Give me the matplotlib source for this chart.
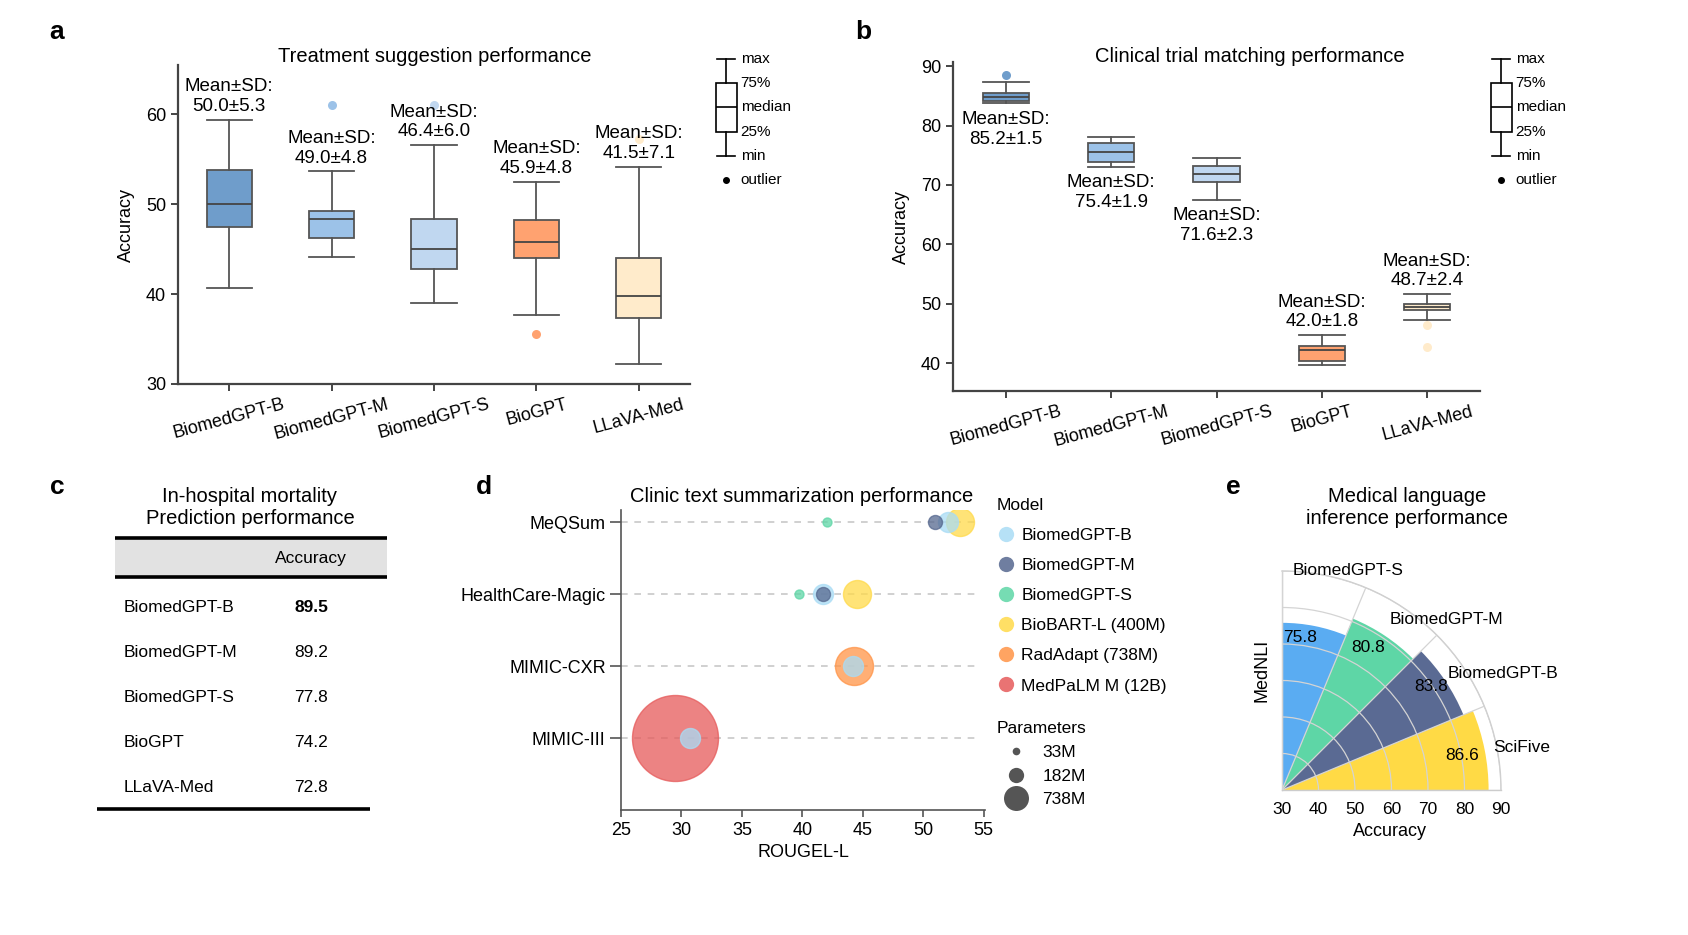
import numpy as np
import matplotlib
matplotlib.use('Agg')
import matplotlib.pyplot as plt
from matplotlib.lines import Line2D
from matplotlib.patches import Rectangle
import matplotlib.transforms as mtrans

plt.rcParams['font.family'] = ['Liberation Sans', 'DejaVu Sans']
plt.rcParams['font.size'] = 13

W, H = 1688, 935

# ---------------- data ----------------
models_ab = ['BiomedGPT-B', 'BiomedGPT-M', 'BiomedGPT-S', 'BioGPT', 'LLaVA-Med']

# panel a: treatment suggestion
a_whislo = [40.7, 44.1, 39.0, 37.7, 32.2]
a_q1 = [47.5, 46.2, 42.8, 44.0, 37.3]
a_med = [50.0, 48.4, 45.0, 45.8, 39.8]
a_q3 = [53.8, 49.2, 48.4, 48.3, 44.0]
a_whishi = [59.4, 53.7, 56.6, 52.5, 54.2]
a_fliers = [[], [61.1], [61.1], [35.6], [57.3]]
a_mean = [50.0, 49.0, 46.4, 45.9, 41.5]
a_sd = [5.3, 4.8, 6.0, 4.8, 7.1]

# panel b: clinical trial matching
b_whislo = [83.8, 73.1, 67.5, 39.7, 47.3]
b_q1 = [84.1, 73.8, 70.5, 40.4, 48.9]
b_med = [84.8, 75.6, 71.9, 42.2, 49.5]
b_q3 = [85.4, 77.1, 73.2, 42.9, 49.9]
b_whishi = [87.3, 78.1, 74.5, 44.7, 51.6]
b_fliers = [[88.5], [], [], [], [46.4, 42.7]]
b_mean = [85.2, 75.4, 71.6, 42.0, 48.7]
b_sd = [1.5, 1.9, 2.3, 1.8, 2.4]

# panel c: in-hospital mortality
c_models = ['BiomedGPT-B', 'BiomedGPT-M', 'BiomedGPT-S', 'BioGPT', 'LLaVA-Med']
c_acc = [89.5, 89.2, 77.8, 74.2, 72.8]

# panel d: clinic text summarization (ROUGE-L)
d_datasets = ['MeQSum', 'HealthCare-Magic', 'MIMIC-CXR', 'MIMIC-III']
d_models = ['BiomedGPT-B', 'BiomedGPT-M', 'BiomedGPT-S', 'BioBART-L (400M)',
            'RadAdapt (738M)', 'MedPaLM M (12B)']
d_point_dataset = ['MeQSum', 'MeQSum', 'MeQSum', 'MeQSum',
                   'HealthCare-Magic', 'HealthCare-Magic', 'HealthCare-Magic', 'HealthCare-Magic',
                   'MIMIC-CXR', 'MIMIC-CXR', 'MIMIC-III', 'MIMIC-III']
d_point_model = ['BiomedGPT-S', 'BiomedGPT-M', 'BiomedGPT-B', 'BioBART-L (400M)',
                 'BiomedGPT-S', 'BiomedGPT-B', 'BiomedGPT-M', 'BioBART-L (400M)',
                 'RadAdapt (738M)', 'BiomedGPT-B', 'MedPaLM M (12B)', 'BiomedGPT-B']
d_rouge = [42.0, 51.0, 52.0, 53.0,
           39.7, 41.7, 41.7, 44.5,
           44.3, 44.2, 29.5, 30.7]
d_xticks = [25, 30, 35, 40, 45, 50, 55]
param_labels = ['33M', '182M', '738M']

# panel e: medical language inference (MedNLI)
e_models = ['SciFive', 'BiomedGPT-B', 'BiomedGPT-M', 'BiomedGPT-S']
e_acc = [86.6, 83.8, 80.8, 75.8]
e_rticks = [30, 40, 50, 60, 70, 80, 90]

# ---------------- styles ----------------
box_colors = ['#6F9DCB', '#9CC2E8', '#C0D7F0', '#FFA270', '#FFEBCB']
d_colors = {'BiomedGPT-B': '#A9DCF5', 'BiomedGPT-M': '#56688F', 'BiomedGPT-S': '#5ED6A6',
            'BioBART-L (400M)': '#FFDA4A', 'RadAdapt (738M)': '#FF9447',
            'MedPaLM M (12B)': '#E65A5A'}
d_radius_px = {'BiomedGPT-B': 10, 'BiomedGPT-M': 7, 'BiomedGPT-S': 4.5,
               'BioBART-L (400M)': 14, 'RadAdapt (738M)': 19, 'MedPaLM M (12B)': 43}
e_colors = ['#FFDA45', '#5A6A93', '#5ED6A6', '#5AACF2']
EDGE = '#555555'
TITLE_FS = 14.5

fig = plt.figure(figsize=(W / 100, H / 100), dpi=100)


def rect(x0, y0, x1, y1):
    return [x0 / W, 1 - y1 / H, (x1 - x0) / W, (y1 - y0) / H]


def style_ax(ax):
    for s in ['top', 'right']:
        ax.spines[s].set_visible(False)
    for s in ['left', 'bottom']:
        ax.spines[s].set_linewidth(1.6)
        ax.spines[s].set_color('#444444')
    ax.tick_params(width=1.4, length=5, color='#444444', labelsize=13)


def boxpanel(ax, lo, q1, med, q3, hi, fl):
    stats = [dict(whislo=lo[i], q1=q1[i], med=med[i], q3=q3[i], whishi=hi[i], fliers=fl[i])
             for i in range(len(lo))]
    bp = ax.bxp(stats, positions=np.arange(len(lo)), widths=0.44, capwidths=0.44,
                patch_artist=True, showfliers=True,
                boxprops=dict(edgecolor=EDGE, linewidth=1.3),
                whiskerprops=dict(color=EDGE, linewidth=1.3),
                capprops=dict(color=EDGE, linewidth=1.3),
                medianprops=dict(color='#444444', linewidth=1.3))
    for patch, c in zip(bp['boxes'], box_colors):
        patch.set_facecolor(c)
    for f, c in zip(bp['fliers'], box_colors):
        f.set(marker='o', markerfacecolor=c, markeredgecolor='none', markersize=6.5)
    return bp


def key(rc):
    kx = fig.add_axes(rc)
    kx.axis('off')
    kx.bxp([dict(whislo=0, q1=1, med=2, q3=3, whishi=4, fliers=[])], positions=[0],
           widths=0.9, capwidths=0.75, patch_artist=True,
           boxprops=dict(facecolor='white', edgecolor='black', linewidth=1.2),
           whiskerprops=dict(color='black', linewidth=1.2),
           capprops=dict(color='black', linewidth=1.2),
           medianprops=dict(color='black', linewidth=1.2))
    kx.plot([0], [-1], 'o', color='black', ms=4)
    for yv, t in zip([4, 3, 2, 1, 0, -1], ['max', '75%', 'median', '25%', 'min', 'outlier']):
        kx.text(0.62, yv, t, va='center', ha='left', fontsize=11)
    kx.set_xlim(-0.6, 3.5)
    kx.set_ylim(-1.5, 4.5)


def msd(m, s):
    return f'Mean\u00b1SD:\n{m:.1f}\u00b1{s:.1f}'


# ---------------- panel a ----------------
axA = fig.add_axes(rect(178, 65, 690, 384))
boxpanel(axA, a_whislo, a_q1, a_med, a_q3, a_whishi, a_fliers)
style_ax(axA)
axA.set_xlim(-0.5, 4.5)
axA.set_ylim(30, 65.5)
axA.set_yticks([30, 40, 50, 60])
axA.set_xticks(range(5))
axA.set_xticklabels(models_ab, rotation=15)
axA.set_ylabel('Accuracy', fontsize=13, labelpad=8)
for i in range(5):
    axA.text(i, a_whishi[i] + 0.5, msd(a_mean[i], a_sd[i]),
             ha='center', va='bottom', fontsize=13.5, linespacing=1.22)
fig.text(435 / W, 1 - 56 / H, 'Treatment suggestion performance', ha='center', va='center',
         fontsize=TITLE_FS)
key(rect(712, 47, 808, 192))

# ---------------- panel b ----------------
axB = fig.add_axes(rect(953, 62, 1480, 391))
boxpanel(axB, b_whislo, b_q1, b_med, b_q3, b_whishi, b_fliers)
style_ax(axB)
axB.set_xlim(-0.5, 4.5)
axB.set_ylim(35.3, 90.7)
axB.set_yticks([40, 50, 60, 70, 80, 90])
axB.set_xticks(range(5))
axB.set_xticklabels(models_ab, rotation=15)
axB.set_ylabel('Accuracy', fontsize=13, labelpad=8)
for i in range(5):
    if i < 3:
        axB.text(i, b_whislo[i] - 1.3, msd(b_mean[i], b_sd[i]), ha='center', va='top',
                 fontsize=13.5, linespacing=1.22)
    else:
        axB.text(i, b_whishi[i] + 0.8, msd(b_mean[i], b_sd[i]), ha='center', va='bottom',
                 fontsize=13.5, linespacing=1.22)
fig.text(1250 / W, 1 - 56 / H, 'Clinical trial matching performance', ha='center', va='center',
         fontsize=TITLE_FS)
key(rect(1487, 47, 1583, 192))

# ---------------- overlay (labels, table) ----------------
ov = fig.add_axes([0, 0, 1, 1], zorder=-1)
ov.set_xlim(0, W)
ov.set_ylim(H, 0)
ov.axis('off')
for lab, (x, y) in zip('abcde', [(57, 32), (863, 32), (57, 487), (484, 487), (1233, 487)]):
    ov.text(x, y, lab, ha='center', va='center', fontsize=19, fontweight='bold')

# panel c table
ov.text(250, 507, 'In-hospital mortality\nPrediction performance', ha='center', va='center',
        fontsize=TITLE_FS, linespacing=1.2)
ov.add_patch(Rectangle((115, 538), 272, 39, facecolor='#E2E2E2', edgecolor='none'))
ov.plot([115, 387], [538, 538], color='black', lw=2.6, solid_capstyle='butt')
ov.plot([115, 387], [577, 577], color='black', lw=2.6, solid_capstyle='butt')
ov.plot([97, 370], [809, 809], color='black', lw=2.6, solid_capstyle='butt')
ov.text(311, 558, 'Accuracy', ha='center', va='center', fontsize=12.5)
best = int(np.argmax(c_acc))
for i, (m, v) in enumerate(zip(c_models, c_acc)):
    yy = 608 + i * 44.8
    ov.text(124, yy, m, ha='left', va='center', fontsize=12.5)
    ov.text(311, yy, f'{v:.1f}', ha='center', va='center', fontsize=12.5,
            fontweight='bold' if i == best else 'normal')

# ---------------- panel d ----------------
axD = fig.add_axes(rect(621, 510, 985, 810))
ypos = {d: i for i, d in enumerate(d_datasets)}
for i in range(len(d_datasets)):
    axD.axhline(i, xmin=0, xmax=0.98, color='#C8C8C8', ls=(0, (4, 4)), lw=1.2, zorder=0)
order = sorted(range(len(d_rouge)), key=lambda k: -d_radius_px[d_point_model[k]])
for k in order:
    m = d_point_model[k]
    r = d_radius_px[m]
    axD.scatter(d_rouge[k], ypos[d_point_dataset[k]], s=(2 * r * 0.72) ** 2,
                color=d_colors[m], alpha=0.75, edgecolors=d_colors[m], linewidths=1.0, zorder=3)
for s in ['top', 'right']:
    axD.spines[s].set_visible(False)
for s in ['left', 'bottom']:
    axD.spines[s].set_color('#555555')
    axD.spines[s].set_linewidth(1.2)
axD.set_yticks(range(len(d_datasets)))
axD.set_yticklabels(d_datasets)
axD.set_ylim(4.0, -0.17)
axD.set_xlim(25.0, 55.1)
axD.set_xticks(d_xticks)
axD.tick_params(axis='y', length=8, width=1.2, color='#555555', labelsize=13, pad=3)
axD.tick_params(axis='x', length=5, width=1.2, color='#555555', labelsize=13)
axD.set_xlabel('ROUGEL-L', fontsize=13, labelpad=4)
fig.text(802 / W, 1 - 496 / H, 'Clinic text summarization performance', ha='center', va='center',
         fontsize=TITLE_FS)

h1 = [Line2D([], [], marker='o', ls='', markersize=11, markerfacecolor=d_colors[m],
             markeredgecolor='none', alpha=0.85) for m in d_models]
leg1 = fig.legend(h1, d_models, title='Model', loc='upper left', bbox_to_anchor=(997 / W, 1 - 498 / H),
                  frameon=False, fontsize=12.5, title_fontsize=12.5, alignment='left',
                  handletextpad=0.4, labelspacing=0.86, handlelength=1.0, borderaxespad=0,
                  borderpad=0)
h2 = [Line2D([], [], marker='o', ls='', markersize=ms, markerfacecolor='#555555',
             markeredgecolor='none') for ms in [5.5, 11, 18]]
leg2 = fig.legend(h2, param_labels, title='Parameters', loc='upper left',
                  bbox_to_anchor=(997 / W, 1 - 721 / H), frameon=False, fontsize=12.5,
                  title_fontsize=12.5, alignment='left', handletextpad=0.4, labelspacing=0.5,
                  handlelength=2.2, borderaxespad=0, borderpad=0)

# ---------------- panel e ----------------
axE = fig.add_axes(rect(1282, 571, 1501, 790), projection='polar')
axE.set_thetamin(0)
axE.set_thetamax(90)
width = np.pi / 8
thetas = np.arange(len(e_acc)) * width
axE.bar(thetas, np.array(e_acc) - 30, width=width, bottom=30, align='edge', color=e_colors,
        edgecolor='none', zorder=1)
axE.set_rlim(30, 90)
axE.set_rticks(e_rticks[1:])
axE.set_yticklabels([])
axE.set_thetagrids([0, 22.5, 45, 67.5, 90], labels=[''] * 5)
axE.grid(color='#D4D4D4', lw=0.9)
axE.set_axisbelow(False)
for sp in axE.spines.values():
    sp.set_color('#CCCCCC')
    sp.set_linewidth(1.0)
off = mtrans.offset_copy(axE.transData, fig=fig, y=-12, units='dots')
for rv in e_rticks:
    axE.text(0, rv, str(rv), ha='center', va='top', transform=off, fontsize=12.5, clip_on=False)
lab_theta = [11.3, 35.1, 57.6, 87.1]
lab_r = [88.9, 85.3, 85.2, 90.1]
val_theta = [11.0, 34.7, 58.8, 83.3]
val_r = [80.2, 79.6, 75.5, 72.2]
for i in range(len(e_acc)):
    axE.text(np.deg2rad(lab_theta[i]), lab_r[i], e_models[i], ha='left', va='center',
             fontsize=12.5, clip_on=False)
    axE.text(np.deg2rad(val_theta[i]), val_r[i], f'{e_acc[i]:.1f}', ha='center', va='center',
             fontsize=12.5, clip_on=False)
fig.text(1390 / W, 1 - 832 / H, 'Accuracy', ha='center', va='center', fontsize=13)
fig.text(1262 / W, 1 - 670 / H, 'MedNLI', ha='center', va='center', fontsize=13, rotation=90)
fig.text(1407 / W, 1 - 508 / H, 'Medical language\ninference performance', ha='center',
         va='center', fontsize=TITLE_FS, linespacing=1.2)

fig.savefig('out.png', dpi=100)
